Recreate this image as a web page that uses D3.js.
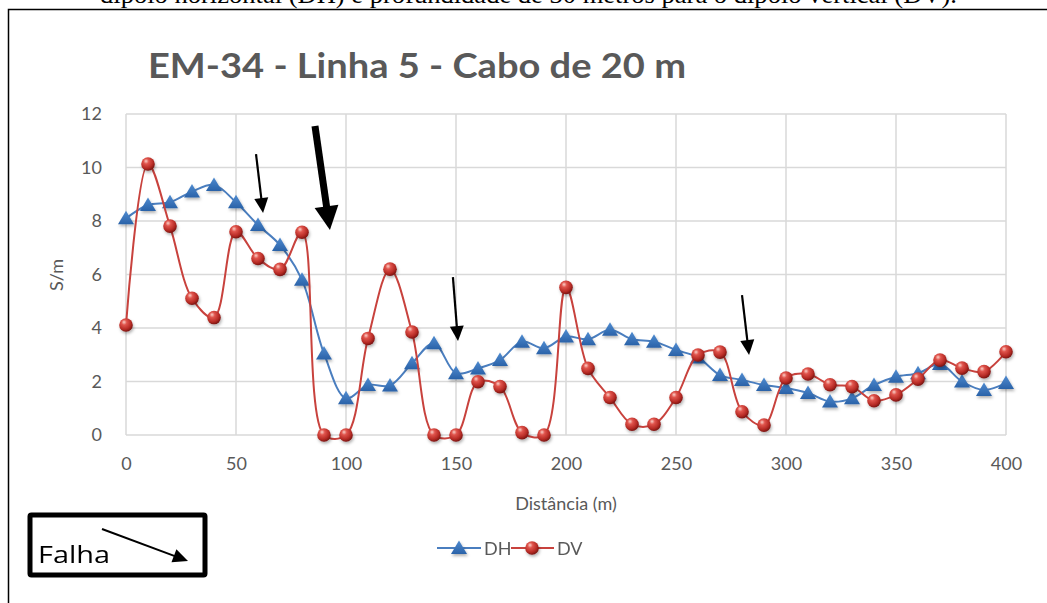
<!DOCTYPE html>
<html><head><meta charset="utf-8">
<script src="https://cdn.jsdelivr.net/npm/d3@7"></script>
<style>html,body{margin:0;padding:0;background:#fff;overflow:hidden}</style>
</head><body>
<svg id="c" width="1047" height="603"></svg>
<script>
// ---- data ----
const distances = d3.range(0, 401, 10);
const dhValues = [8.1,8.6,8.7,9.1,9.35,8.7,7.85,7.1,5.8,3.05,1.37,1.87,1.85,2.68,3.43,2.31,2.49,2.8,3.49,3.24,3.68,3.58,3.93,3.58,3.49,3.18,2.9,2.24,2.06,1.87,1.76,1.57,1.25,1.37,1.87,2.18,2.31,2.65,2.0,1.68,1.94];
const dvValues = [4.11,10.13,7.81,5.11,4.39,7.6,6.6,6.19,7.58,0,0,3.61,6.2,3.85,0,0,1.99,1.81,0.09,0,5.52,2.49,1.4,0.4,0.4,1.4,2.99,3.1,0.87,0.37,2.13,2.28,1.88,1.81,1.28,1.5,2.09,2.8,2.5,2.37,3.11];
const xTicks = [0,50,100,150,200,250,300,350,400];
const yTicks = [0,2,4,6,8,10,12];
const seriesNames = ["DH","DV"];
const titleText = "EM-34 - Linha 5 - Cabo de 20 m";
const xLabel = "Distância (m)";
const yLabel = "S/m";
const captionText = "dipolo horizontal (DH) e profundidade de 30 metros para o dipolo vertical (DV).";
// fault arrows in data space: [x0,y0,x1,y1,heavy]
const faultArrows = [[59.1,10.5,62.3,8.3,0],[85.9,11.55,92.7,7.66,1],[148.6,5.9,150.9,3.51,0],[280,5.23,283.2,2.99,0]];

const svg = d3.select("#c");
const font = "Lato, 'Open Sans', sans-serif";
const grey = "#595959";

const defs = svg.append("defs");
const rg = defs.append("radialGradient").attr("id","sph").attr("cx","0.4").attr("cy","0.35").attr("r","0.65").attr("fx","0.35").attr("fy","0.28");
rg.append("stop").attr("offset","0%").attr("stop-color","#fbd0c8");
rg.append("stop").attr("offset","30%").attr("stop-color","#e0544c");
rg.append("stop").attr("offset","75%").attr("stop-color","#b52a24");
rg.append("stop").attr("offset","100%").attr("stop-color","#7a1512");
const lg = defs.append("linearGradient").attr("id","tri").attr("x1","0").attr("y1","0").attr("x2","0").attr("y2","1");
lg.append("stop").attr("offset","0%").attr("stop-color","#4f8bd0");
lg.append("stop").attr("offset","100%").attr("stop-color","#2a62a8");
const f = defs.append("filter").attr("id","sh").attr("x","-50%").attr("y","-50%").attr("width","200%").attr("height","200%");
f.append("feDropShadow").attr("dx",1).attr("dy",2).attr("stdDeviation",1.5).attr("flood-color","#000").attr("flood-opacity",0.3);

// caption (cut off) and frame
svg.append("text").attr("x",100).attr("y",3).attr("font-family","'Liberation Serif', 'DejaVu Serif', serif")
  .attr("font-size",25).attr("textLength",857).attr("lengthAdjust","spacingAndGlyphs").attr("fill","#000").text(captionText);
svg.append("path").attr("d","M8.5,603 V9.5 H1047").attr("fill","none").attr("stroke","#000").attr("stroke-width",1.5);

// title
svg.append("text").attr("x",148).attr("y",78).attr("font-family",font).attr("font-weight","bold")
  .attr("font-size",35).attr("fill",grey).attr("textLength",538).attr("lengthAdjust","spacingAndGlyphs").text(titleText);

const x = d3.scaleLinear().domain([0,400]).range([126,1006]);
const y = d3.scaleLinear().domain([0,12]).range([435,114]);

// gridlines
const g = svg.append("g");
g.selectAll(".hg").data(yTicks).join("line").attr("x1",x(0)).attr("x2",x(400)).attr("y1",d=>y(d)).attr("y2",d=>y(d))
  .attr("stroke","#d9d9d9").attr("stroke-width",1.5);
g.selectAll(".vg").data(xTicks).join("line").attr("y1",y(0)).attr("y2",y(12)).attr("x1",d=>x(d)).attr("x2",d=>x(d))
  .attr("stroke","#d9d9d9").attr("stroke-width",1.5);

// axes (labels only)
const ax = svg.append("g").attr("transform",`translate(0,${y(0)})`).call(d3.axisBottom(x).tickValues(xTicks).tickSize(0).tickPadding(22));
ax.select(".domain").remove();
ax.selectAll("text").attr("font-family",font).attr("font-size",18).attr("fill",grey);
const ay = svg.append("g").attr("transform",`translate(${x(0)},0)`).call(d3.axisLeft(y).tickValues(yTicks).tickSize(0).tickPadding(24));
ay.select(".domain").remove();
ay.selectAll("text").attr("font-family",font).attr("font-size",18).attr("fill",grey);

svg.append("text").attr("x",566).attr("y",510).attr("text-anchor","middle").attr("font-family",font).attr("font-size",18).attr("fill",grey).text(xLabel);
svg.append("text").attr("transform","translate(63,275) rotate(-90)").attr("text-anchor","middle").attr("font-family",font).attr("font-size",18).attr("fill",grey).text(yLabel);

// series
const line = d3.line().x((d,i)=>x(distances[i])).y(d=>y(d)).curve(d3.curveCatmullRom.alpha(0.5));
const triPath = "M0,-7.5 L8,6 L-8,6 Z";
svg.append("path").attr("d",line(dhValues)).attr("fill","none").attr("stroke","#4a7ebf").attr("stroke-width",2);
svg.append("g").attr("filter","url(#sh)").selectAll("path").data(dhValues).join("path")
  .attr("d",triPath).attr("transform",(d,i)=>`translate(${x(distances[i])},${y(d)})`).attr("fill","url(#tri)");
svg.append("path").attr("d",line(dvValues)).attr("fill","none").attr("stroke","#c8423d").attr("stroke-width",2);
svg.append("g").attr("filter","url(#sh)").selectAll("circle").data(dvValues).join("circle")
  .attr("cx",(d,i)=>x(distances[i])).attr("cy",d=>y(d)).attr("r",6.8).attr("fill","url(#sph)");

// arrows
function arrow(x0,y0,x1,y1,w,hw,hl){
  const dx=x1-x0, dy=y1-y0, L=Math.hypot(dx,dy), ux=dx/L, uy=dy/L, px=-uy, py=ux;
  const bx=x1-ux*hl, by=y1-uy*hl;
  svg.append("line").attr("x1",x0).attr("y1",y0).attr("x2",bx+ux*1).attr("y2",by+uy*1).attr("stroke","#000").attr("stroke-width",w);
  svg.append("path").attr("d",`M${x1},${y1} L${bx+px*hw/2},${by+py*hw/2} L${bx-px*hw/2},${by-py*hw/2} Z`).attr("fill","#000");
}
faultArrows.forEach(a=>{
  if(a[4]) arrow(x(a[0]),y(a[1]),x(a[2]),y(a[3]),7,24,24);
  else arrow(x(a[0]),y(a[1]),x(a[2]),y(a[3]),2.2,14,15);
});

// Falha box
svg.append("rect").attr("x",30).attr("y",515).attr("width",175).attr("height",60).attr("fill","#fff").attr("stroke","#000").attr("stroke-width",5).attr("rx",1.5);
svg.append("text").attr("x",38).attr("y",563).attr("font-family","'Open Sans', Lato, sans-serif").attr("font-size",24).attr("fill","#000").attr("textLength",72).attr("lengthAdjust","spacingAndGlyphs").text("Falha");
arrow(102,529,188,561,2,14,15);

// legend
const leg = svg.append("g");
leg.append("line").attr("x1",437).attr("x2",481).attr("y1",548).attr("y2",548).attr("stroke","#4a7ebf").attr("stroke-width",2);
leg.append("path").attr("d",triPath).attr("transform","translate(459,548)").attr("fill","url(#tri)").attr("filter","url(#sh)");
leg.append("text").attr("x",484).attr("y",555).attr("font-family",font).attr("font-size",18).attr("fill",grey).text(seriesNames[0]);
leg.append("line").attr("x1",511).attr("x2",554).attr("y1",548).attr("y2",548).attr("stroke","#c8423d").attr("stroke-width",2);
leg.append("circle").attr("cx",532).attr("cy",548).attr("r",6.8).attr("fill","url(#sph)").attr("filter","url(#sh)");
leg.append("text").attr("x",557).attr("y",555).attr("font-family",font).attr("font-size",18).attr("fill",grey).text(seriesNames[1]);
</script>
</body></html>
